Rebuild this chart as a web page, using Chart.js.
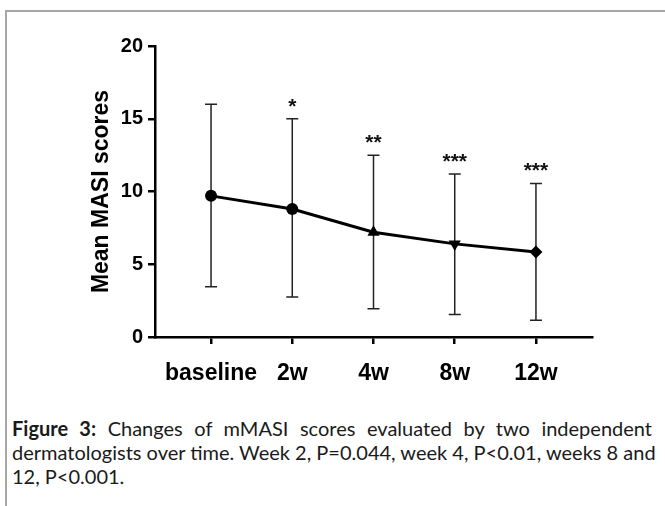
<!DOCTYPE html>
<html>
<head>
<meta charset="utf-8">
<script src="https://cdn.jsdelivr.net/npm/chart.js@4/dist/chart.umd.min.js"></script>
<style>
  body { margin: 0; background: #fff; width: 665px; height: 506px; overflow: hidden; position: relative; }
  #frame { position: absolute; left: 5px; top: 10px; width: 670px; height: 510px;
           border-top: 2px solid #a6a6a6; border-left: 2px solid #a6a6a6; }
  #graf { position: absolute; left: 0; top: 0; }
  #caption { position: absolute; left: 12px; top: 416px; width: 640px;
             font-family: Lato, sans-serif; font-size: 20px; line-height: 24px; color: #1a1a1a; }
  #caption .riga { text-align: justify; text-align-last: justify; white-space: nowrap; }
  #caption .ultima { text-align: left; }
</style>
</head>
<body>
<div id="frame"></div>
<canvas id="graf" width="665" height="400"></canvas>
<div id="caption">
  <div class="riga"><b>Figure 3:</b> Changes of mMASI scores evaluated by two independent</div>
  <div class="riga">dermatologists over time. Week 2, P=0.044, week 4, P&lt;0.01, weeks 8 and</div>
  <div class="ultima">12, P&lt;0.001.</div>
</div>
<script>
// dati
var etichette = ['baseline', '2w', '4w', '8w', '12w'];
var medie = [9.7, 8.8, 7.2, 6.4, 5.85];
var erroreSu = [16.0, 15.0, 12.5, 11.2, 10.55];
var erroreGiu = [3.45, 2.75, 1.95, 1.55, 1.15];
var asterischi = ['', '*', '**', '***', '***'];
var tickY = [0, 5, 10, 15, 20];

//barre di errore disegnate sotto i punti, asterischi sopra
var barreErrore = {
    id: 'barreErrore',
    beforeDatasetsDraw: function(chart) {
        var ctx = chart.ctx;
        var x = chart.scales.x, y = chart.scales.y;
        ctx.save();
        ctx.strokeStyle = '#222';
        ctx.lineWidth = 1.5;
        for (var i = 0; i < medie.length; i++) {
            var px = x.getPixelForValue(i);
            var top = y.getPixelForValue(erroreSu[i]);
            var bot = y.getPixelForValue(erroreGiu[i]);
            ctx.beginPath();
            ctx.moveTo(px, top); ctx.lineTo(px, bot);
            ctx.moveTo(px - 6, top); ctx.lineTo(px + 6, top);
            ctx.moveTo(px - 6, bot); ctx.lineTo(px + 6, bot);
            ctx.stroke();
        }
        ctx.restore();
    },
    afterDatasetsDraw: function(chart) {
        var ctx = chart.ctx;
        var x = chart.scales.x, y = chart.scales.y;
        ctx.save();
        ctx.fillStyle = '#111';
        ctx.font = 'bold 21px "Liberation Sans"';
        ctx.textAlign = 'center';
        ctx.textBaseline = 'alphabetic';
        for (var i = 0; i < asterischi.length; i++) {
            if (!asterischi[i]) continue;
            ctx.fillText(asterischi[i], x.getPixelForValue(i), y.getPixelForValue(erroreSu[i]) - 6);
        }
        ctx.restore();
    }
};

var punti = medie.map(function(v, i) { return {x: i, y: v}; });

var chart = new Chart(document.getElementById('graf'), {
    type: 'line',
    data: {
        datasets: [{
            data: punti,
            borderColor: '#000',
            borderWidth: 3,
            tension: 0,
            pointStyle: ['circle', 'circle', 'triangle', 'triangle', 'rectRot'],
            rotation: [0, 0, 0, 180, 0],
            pointRadius: [6, 6, 7, 7, 6.5],
            pointBackgroundColor: '#000',
            pointBorderColor: '#000',
            pointBorderWidth: 0
        }]
    },
    options: {
        responsive: false,
        animation: false,
        devicePixelRatio: 1,
        layout: { padding: { left: 0, top: 46, right: 73, bottom: 0 } },
        plugins: { legend: { display: false }, tooltip: { enabled: false } },
        scales: {
            x: {
                type: 'linear',
                min: -0.69,
                max: 4.69,
                afterBuildTicks: function(scale) {
                    scale.ticks = etichette.map(function(e, i) { return {value: i}; });
                },
                afterFit: function(scale) { scale.height = 63; },
                grid: { drawOnChartArea: false, drawTicks: true, tickLength: 7, color: '#000', lineWidth: 2.5 },
                border: { color: '#000', width: 2.5 },
                ticks: {
                    autoSkip: false,
                    maxRotation: 0,
                    padding: 16,
                    color: '#000',
                    font: { family: 'Liberation Sans', size: 23, weight: 'bold' },
                    callback: function(v) { return etichette[v]; }
                }
            },
            y: {
                min: 0,
                max: 20,
                afterBuildTicks: function(scale) {
                    scale.ticks = tickY.map(function(v) { return {value: v}; });
                },
                afterFit: function(scale) { scale.width = 155; },
                grid: { drawOnChartArea: false, drawTicks: true, tickLength: 7, color: '#000', lineWidth: 2.5 },
                border: { color: '#000', width: 2.5 },
                ticks: {
                    padding: 5,
                    color: '#000',
                    font: { family: 'Liberation Sans', size: 20, weight: 'bold' }
                },
                title: {
                    display: true,
                    text: 'Mean MASI scores',
                    color: '#000',
                    font: { family: 'Liberation Sans', size: 23, weight: 'bold' },
                    padding: { top: 88, bottom: 0 }
                }
            }
        }
    },
    plugins: [barreErrore]
});
</script>
</body>
</html>
